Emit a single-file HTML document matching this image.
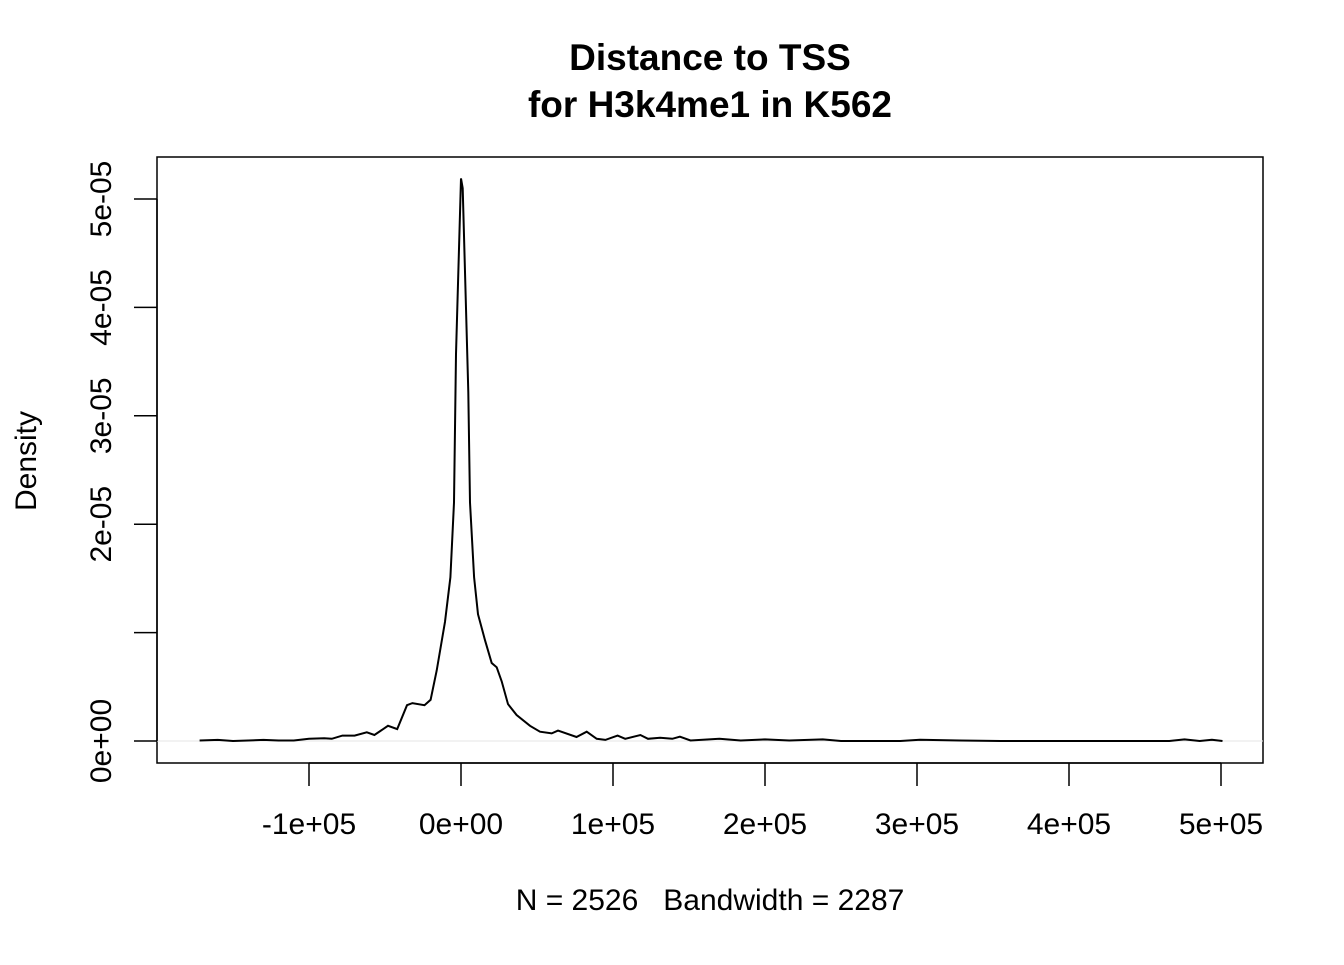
<!DOCTYPE html>
<html><head><meta charset="utf-8"><style>
body{margin:0;background:#fff}
svg text{font-family:"Liberation Sans",Arial,sans-serif;fill:#000}
</style></head><body>
<svg id="c" width="1344" height="960" xmlns="http://www.w3.org/2000/svg">
<text x="710" y="70" font-size="37" font-weight="bold" text-anchor="middle">Distance to TSS</text>
<text x="710" y="117" font-size="37" font-weight="bold" text-anchor="middle">for H3k4me1 in K562</text>
<rect x="157" y="157" width="1106" height="606" fill="none" stroke="#000" stroke-width="1.5"/>
<line x1="157" y1="741" x2="1263" y2="741" stroke="#e6e6e6" stroke-width="1"/>
<g id="xaxis"></g>
<g id="yaxis"></g>
<path id="curve" fill="none" stroke="#000" stroke-width="2"/>
<text x="710" y="910" font-size="30" text-anchor="middle">N = 2526&#160;&#160;&#160;Bandwidth = 2287</text>
<text transform="translate(36,461) rotate(-90)" font-size="30" text-anchor="middle">Density</text>
</svg>
<script>
const xTicks=[-100000,0,100000,200000,300000,400000,500000];
const xTickLabels=["-1e+05","0e+00","1e+05","2e+05","3e+05","4e+05","5e+05"];
const yTicks=[0,1e-5,2e-5,3e-5,4e-5,5e-5];
const yTickLabels=["0e+00","","2e-05","3e-05","4e-05","5e-05"];
const xsK=[-172,-160,-150,-140,-130,-120,-110,-100,-90,-85,-78,-70,-62,-57,-48,-42,-35.5,-32,-24,-20,-16,-10.5,-7,-4.6,-3.3,0,1.1,4.8,5.9,8.6,11.2,15.8,20.2,23.5,26.8,30.9,36.6,45.4,52,59.7,63.8,76,82.7,89.3,95,103,108,118,123,131,139,144,151,170,184,200,216,238,250,289,302,328,355,466,476,486,494,501];
const ysU=[0.05,0.1,0,0.05,0.1,0.05,0.05,0.2,0.25,0.2,0.5,0.5,0.8,0.55,1.4,1.1,3.3,3.5,3.3,3.8,6.5,11,15.1,22,35.7,51.9,51,32.2,22,15.1,11.7,9.3,7.2,6.8,5.5,3.4,2.4,1.4,0.86,0.7,0.96,0.37,0.86,0.2,0.1,0.5,0.2,0.55,0.2,0.3,0.2,0.4,0.05,0.2,0.05,0.15,0.05,0.15,0,0,0.12,0.05,0,0,0.15,0,0.12,0];
const X=v=>461+v*152/100000;
const Y=v=>741-v*1.084e7;
const NS="http://www.w3.org/2000/svg";
const xa=document.getElementById('xaxis'),ya=document.getElementById('yaxis');
xa.innerHTML=`<line x1="${X(xTicks[0])}" y1="763" x2="${X(xTicks[xTicks.length-1])}" y2="763" stroke="#000" stroke-width="1.5"/>`;
xTicks.forEach((t,i)=>{
 const l=document.createElementNS(NS,'line');
 l.setAttribute('x1',X(t));l.setAttribute('x2',X(t));l.setAttribute('y1',763);l.setAttribute('y2',786);l.setAttribute('stroke','#000');l.setAttribute('stroke-width','1.5');
 
 
 xa.appendChild(l);
 const tx=document.createElementNS(NS,'text');
 tx.setAttribute('x',X(t));tx.setAttribute('y',834);tx.setAttribute('font-size','30');tx.setAttribute('text-anchor','middle');
 tx.textContent=xTickLabels[i];
 
 
 xa.appendChild(tx);
});
ya.innerHTML=`<line x1="157" y1="${Y(0)}" x2="157" y2="${Y(5e-5)}" stroke="#000" stroke-width="1.5"/>`;
yTicks.forEach((t,i)=>{
 const l=document.createElementNS(NS,'line');
 l.setAttribute('x1',134);l.setAttribute('x2',157);l.setAttribute('y1',Y(t));l.setAttribute('y2',Y(t));l.setAttribute('stroke','#000');l.setAttribute('stroke-width','1.5');
 
 
 ya.appendChild(l);
 const tx=document.createElementNS(NS,'text');
 tx.setAttribute('transform',`translate(111,${Y(t)}) rotate(-90)`);tx.setAttribute('font-size','30');tx.setAttribute('text-anchor','middle');
 tx.textContent=yTickLabels[i];
 
 
 ya.appendChild(tx);
});
let d='';
xsK.forEach((v,i)=>{d+=(i?'L':'M')+X(v*1000).toFixed(1)+','+Y(ysU[i]*1e-6).toFixed(1);});
document.getElementById('curve').setAttribute('d',d);
</script>
</body></html>
